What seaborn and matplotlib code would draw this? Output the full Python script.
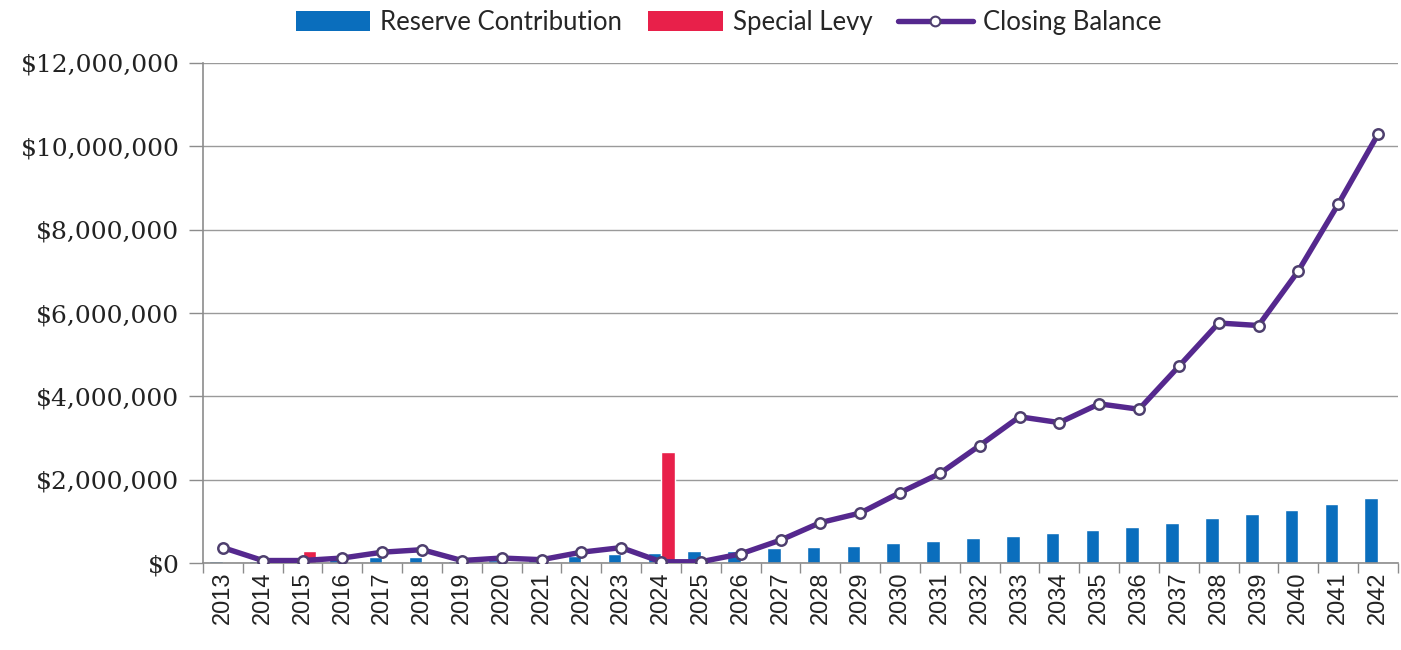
import numpy as np
import pandas as pd
import matplotlib
matplotlib.use("Agg")
import matplotlib.pyplot as plt
from matplotlib.ticker import FuncFormatter, FixedLocator
from matplotlib.lines import Line2D
from matplotlib.patches import Patch
import seaborn as sns

years = [str(y) for y in range(2013, 2043)]

reserve_contribution = [
    50000, 50000, 80000, 100000, 150000, 150000, 50000, 80000, 100000, 160000,
    220000, 250000, 280000, 300000, 350000, 380000, 420000, 480000, 530000, 590000,
    660000, 730000, 790000, 870000, 970000, 1070000, 1170000, 1280000, 1420000, 1560000,
]

special_levy = [
    0, 0, 300000, 0, 0, 0, 0, 0, 0, 0,
    0, 2670000, 0, 0, 0, 0, 0, 0, 0, 0,
    0, 0, 0, 0, 0, 0, 0, 0, 0, 0,
]

closing_balance = [
    370000, 60000, 60000, 120000, 260000, 320000, 60000, 120000, 80000, 260000,
    370000, 30000, 30000, 220000, 550000, 970000, 1200000, 1690000, 2150000, 2820000,
    3510000, 3370000, 3820000, 3690000, 4720000, 5760000, 5700000, 7010000, 8610000, 10290000,
]

y_ticks = [0, 2000000, 4000000, 6000000, 8000000, 10000000, 12000000]

BLUE = "#0A6EBD"
RED = "#E8204A"
PURPLE = "#55288E"

sns.set_theme(style="white")
plt.rcParams["font.family"] = ["Lato", "DejaVu Sans"]

bars = pd.DataFrame({
    "Year": years * 2,
    "Amount": reserve_contribution + special_levy,
    "Series": ["Reserve Contribution"] * len(years) + ["Special Levy"] * len(years),
})

fig = plt.figure(figsize=(14.01, 6.5), dpi=100)
ax = fig.add_axes([0.1449, 0.1338, 0.8529, 0.7693])

ax.set_axisbelow(True)
ax.yaxis.grid(True, color="#9a9a9a", linewidth=1.0)

sns.barplot(
    data=bars, x="Year", y="Amount", hue="Series", order=years,
    hue_order=["Reserve Contribution", "Special Levy"],
    palette=[BLUE, RED], width=0.68, gap=0, saturation=1,
    errorbar=None, ax=ax, zorder=2, legend=False,
)

sns.lineplot(
    x=np.arange(len(years)), y=closing_balance, ax=ax,
    color=PURPLE, linewidth=3.9, marker="o", markersize=7.5,
    markerfacecolor="white", markeredgecolor="#4e3f6e", markeredgewidth=1.8,
    zorder=4,
)

ax.set_xlim(-0.5, len(years) - 0.5)
ax.set_ylim(0, 12000000)
ax.set_yticks(y_ticks)
ax.yaxis.set_major_formatter(FuncFormatter(lambda v, p: "${:,.0f}".format(v)))
ax.set_xticks(np.arange(len(years)))
ax.set_xticklabels(years, rotation=90)
ax.xaxis.set_minor_locator(FixedLocator(np.arange(-0.5, len(years), 1.0)))
ax.set_xlabel("")
ax.set_ylabel("")

for lab in ax.get_yticklabels():
    lab.set_fontfamily(["DejaVu Serif"])
    lab.set_fontsize(18)
    lab.set_color("#222222")
for lab in ax.get_xticklabels():
    lab.set_fontfamily(["Liberation Sans"])
    lab.set_fontsize(17)
    lab.set_color("#222222")

ax.tick_params(axis="y", which="major", length=10, width=1, color="#8c8c8c", left=True, pad=7)
ax.tick_params(axis="x", which="major", length=0, pad=6)
ax.tick_params(axis="x", which="minor", length=7, width=1, color="#8c8c8c", bottom=True)

for side in ["top", "right"]:
    ax.spines[side].set_visible(False)
for side in ["left", "bottom"]:
    ax.spines[side].set_color("#8c8c8c")
    ax.spines[side].set_linewidth(1.2)

handles = [
    Patch(facecolor=BLUE, edgecolor="none"),
    Patch(facecolor=RED, edgecolor="none"),
    Line2D([0], [0], color=PURPLE, linewidth=3.9, marker="o", markersize=7,
           markerfacecolor="white", markeredgecolor="#4e3f6e", markeredgewidth=1.5),
]
fig.legend(
    handles, ["Reserve Contribution", "Special Levy", "Closing Balance"],
    loc="center", bbox_to_anchor=(0.52, 0.965), ncol=3, frameon=False,
    fontsize=18.5, handlelength=2.9, handleheight=0.8, handletextpad=0.4,
    columnspacing=1.0,
)

fig.savefig("out.png", dpi=100, facecolor="white")
